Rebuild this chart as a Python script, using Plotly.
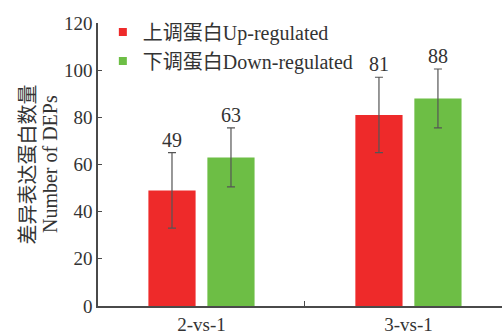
import plotly.graph_objects as go

# Data
groups = ["2-vs-1", "3-vs-1"]
up_counts = [49, 81]
down_counts = [63, 88]
up_err = [16, 16]
down_err = [12.5, 12.5]
series_cn = ["上调蛋白", "下调蛋白"]
series_en = ["Up-regulated", "Down-regulated"]
title_cn = "差异表达蛋白数量"
title_en = "Number of DEPs"
y_ticks = [0, 20, 40, 60, 80, 100, 120]

RED = "#EE2A2A"
GREEN = "#6DBE45"
AXIS = "#4a4a4a"
TEXT = "#333333"
SERIF = "Liberation Serif"
CJK = "Noto Sans CJK SC"
FONT = f"{SERIF}, {CJK}, serif"

BARGAP = 0.43
BARGROUPGAP = 0.2


def mixed(cn, en):
    # Chinese part in CJK font, Latin part forced to serif
    return (f"<span style='font-family:{CJK}'>{cn}</span>"
            f"<span style='font-family:{SERIF}'>{en}</span>")


fig = go.Figure()

for cn, en, vals, errs, col in [
    (series_cn[0], series_en[0], up_counts, up_err, RED),
    (series_cn[1], series_en[1], down_counts, down_err, GREEN),
]:
    fig.add_trace(go.Bar(
        x=groups, y=vals, name=cn + en, marker=dict(color=col, line=dict(width=0)),
        error_y=dict(type="data", array=errs, visible=True, color="#555555",
                     thickness=1.2, width=4),
        showlegend=False,
    ))

# Legend entries with small square swatches
for cn, en, col in [(series_cn[0], series_en[0], RED), (series_cn[1], series_en[1], GREEN)]:
    fig.add_trace(go.Scatter(
        x=[None], y=[None], mode="markers", name=mixed(cn, en),
        marker=dict(symbol="square", size=8, color=col),
    ))

# Value labels above each error bar
slot = (1 - BARGAP) / 2
for i, g in enumerate(groups):
    for k, (vals, errs) in enumerate([(up_counts, up_err), (down_counts, down_err)]):
        offset = (k - 0.5) * slot
        fig.add_annotation(
            x=i + offset, y=vals[i] + errs[i], xref="x", yref="y",
            text=str(vals[i]), showarrow=False, yanchor="bottom", yshift=0,
            font=dict(size=20, color=TEXT, family=SERIF),
        )

# Two-line y-axis title, one line per annotation
for txt, fam, xpos in [(title_cn, CJK, -0.176), (title_en, SERIF, -0.12)]:
    fig.add_annotation(
        x=xpos, y=0.5, xref="paper", yref="paper", text=txt,
        textangle=-90, showarrow=False, xanchor="center", yanchor="middle",
        font=dict(size=20, color=TEXT, family=fam),
    )

fig.update_layout(
    width=502, height=335,
    margin=dict(l=98, r=0, t=23, b=27),
    paper_bgcolor="white", plot_bgcolor="white",
    barmode="group", bargap=BARGAP, bargroupgap=BARGROUPGAP,
    font=dict(family=FONT, size=19, color=TEXT),
    legend=dict(x=0.012, y=1.037, xanchor="left", yanchor="top",
                bgcolor="rgba(0,0,0,0)", font=dict(size=20, family=FONT),
                tracegroupgap=0),
    xaxis=dict(
        range=[-0.5, 1.452], showline=True, linecolor=AXIS, linewidth=1.5,
        ticks="inside", tickson="boundaries", ticklen=5, tickcolor=AXIS,
        showgrid=False, zeroline=False, fixedrange=True,
        tickfont=dict(size=19, family=SERIF, color=TEXT),
    ),
    yaxis=dict(
        range=[0, 120], tickvals=y_ticks, showline=True, linecolor=AXIS,
        linewidth=1.5, ticks="inside", ticklen=4, tickcolor=AXIS,
        showgrid=False, zeroline=False,
        tickfont=dict(size=19, family=SERIF, color=TEXT),
    ),
)

fig.write_html("out.html")
